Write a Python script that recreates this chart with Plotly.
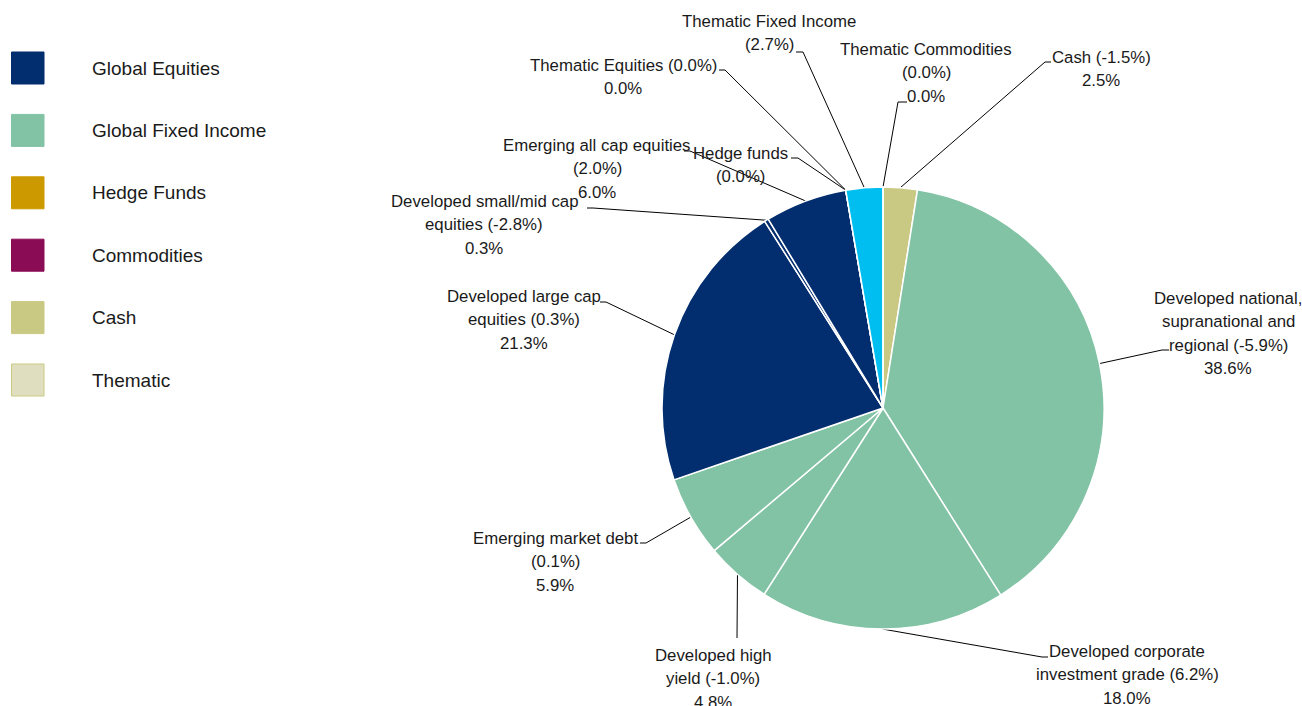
import math
import plotly.graph_objects as go

# Portfolio weights (%) clockwise from 12 o'clock, with the change since last review
segments = [
    "Cash", "Developed national, supranational and regional",
    "Developed corporate investment grade", "Developed high yield",
    "Emerging market debt", "Developed large cap equities",
    "Developed small/mid cap equities", "Emerging all cap equities",
    "Hedge funds", "Thematic Equities", "Thematic Fixed Income",
    "Thematic Commodities",
]
weights = [2.5, 38.6, 18.0, 4.8, 5.9, 21.3, 0.3, 6.0, 0.0, 0.0, 2.7, 0.0]
changes = [-1.5, -5.9, 6.2, -1.0, 0.1, 0.3, -2.8, 2.0, 0.0, 0.0, 2.7, 0.0]

# Label wording, one string per line ({c} = change, {w} = weight)
label_templates = [
    ["Cash ({c})", "{w}"],
    ["Developed national,", "supranational and", "regional ({c})", "{w}"],
    ["Developed corporate", "investment grade ({c})", "{w}"],
    ["Developed high", "yield ({c})", "{w}"],
    ["Emerging market debt", "({c})", "{w}"],
    ["Developed large cap", "equities ({c})", "{w}"],
    ["Developed small/mid cap", "equities ({c})", "{w}"],
    ["Emerging all cap equities", "({c})", "{w}"],
    ["Hedge funds", "({c})"],
    ["Thematic Equities ({c})", "{w}"],
    ["Thematic Fixed Income", "({c})"],
    ["Thematic Commodities", "({c})", "{w}"],
]

# Legend
legend_names = ["Global Equities", "Global Fixed Income", "Hedge Funds",
                "Commodities", "Cash", "Thematic"]

NAVY, GREEN, GOLD, PLUM, KHAKI, PALE, CYAN = (
    "#022D6F", "#82C3A5", "#CC9900", "#8A0C55", "#C9C983", "#DFDFBF", "#00BEF0")
legend_colors = [NAVY, GREEN, GOLD, PLUM, KHAKI, PALE]
slice_colors = [KHAKI, GREEN, GREEN, GREEN, GREEN, NAVY, NAVY, NAVY,
                GOLD, NAVY, CYAN, PALE]

W, H = 1302, 706
CX, CY, R = 883, 408, 221           # pie centre and radius in pixels
LINE_H = 23.5                        # label line spacing
LABEL_FONT = dict(family="Liberation Sans, Arial", size=16.8, color="#1a1a1a")

# Label placement: first-line centre and the leader points near the text
label_layout = [
    dict(x=1101, y=57, lead=[(1051, 62), (1045, 62)]),
    dict(x=1228, y=298, lead=[(1169, 350), (1162, 350)]),
    dict(x=1127, y=651, lead=[(1048, 657), (1042, 657)]),
    dict(x=713, y=655, lead=[(737, 638)]),
    dict(x=555, y=538, lead=[(640, 543), (646, 543)]),
    dict(x=524, y=296, lead=[(600, 302), (606, 302)]),
    dict(x=484, y=201, lead=[(587, 208), (593, 208)]),
    dict(x=597, y=145, lead=[(684, 151), (690, 151)]),
    dict(x=740, y=153, lead=[(791, 158), (798, 158)]),
    dict(x=623, y=65, lead=[(719, 70), (725, 70)]),
    dict(x=769, y=21, lead=[(796, 52), (803, 52)]),
    dict(x=926, y=49, lead=[(907, 102), (898, 102)]),
]

fig = go.Figure()

fig.add_trace(go.Pie(
    labels=segments, values=weights, sort=False, direction="clockwise",
    rotation=0, textinfo="none", hoverinfo="label+value",
    marker=dict(colors=slice_colors, line=dict(color="white", width=1.5)),
    domain=dict(x=[(CX - R) / W, (CX + R) / W],
                y=[(H - CY - R) / H, (H - CY + R) / H]),
    showlegend=False,
))

# Leader lines end on the rim at each slice's mid-angle
total = sum(weights)
cum = 0.0
lx, ly = [], []
annotations = []
for i, w in enumerate(weights):
    theta = 2 * math.pi * (cum + w / 2) / total
    cum += w
    ex, ey = CX + R * math.sin(theta), CY - R * math.cos(theta)
    spec = label_layout[i]
    pts = spec["lead"] + [(ex, ey)]
    lx += [p[0] for p in pts] + [None]
    ly += [p[1] for p in pts] + [None]
    for k, line in enumerate(label_templates[i]):
        txt = line.format(c=f"{changes[i]:.1f}%", w=f"{w:.1f}%")
        annotations.append(dict(
            x=spec["x"], y=spec["y"] + k * LINE_H, xref="x", yref="y",
            text=txt, showarrow=False, xanchor="center", yanchor="middle",
            font=LABEL_FONT))

fig.add_trace(go.Scatter(
    x=lx, y=ly, mode="lines", line=dict(color="#000000", width=1),
    hoverinfo="skip", showlegend=False))

# Legend swatches and names
shapes = []
for i, (name, col) in enumerate(zip(legend_names, legend_colors)):
    yc = 68 + i * 62.4
    shapes.append(dict(
        type="rect", xref="x", yref="y", x0=11.5, x1=44, y0=yc - 16, y1=yc + 16,
        fillcolor=col, line=dict(color=KHAKI if name == "Thematic" else col, width=1)))
    annotations.append(dict(
        x=90, y=yc, xref="x", yref="y", text=name, showarrow=False,
        xanchor="left", yanchor="middle",
        font=dict(family="Liberation Sans, Arial", size=19, color="#1a1a1a")))

fig.update_layout(
    width=W, height=H, autosize=False,
    margin=dict(l=0, r=0, t=0, b=0),
    paper_bgcolor="white", plot_bgcolor="white",
    xaxis=dict(range=[0, W], visible=False, fixedrange=True),
    yaxis=dict(range=[H, 0], visible=False, fixedrange=True),
    shapes=shapes, annotations=annotations,
)

fig.write_html("out.html")
